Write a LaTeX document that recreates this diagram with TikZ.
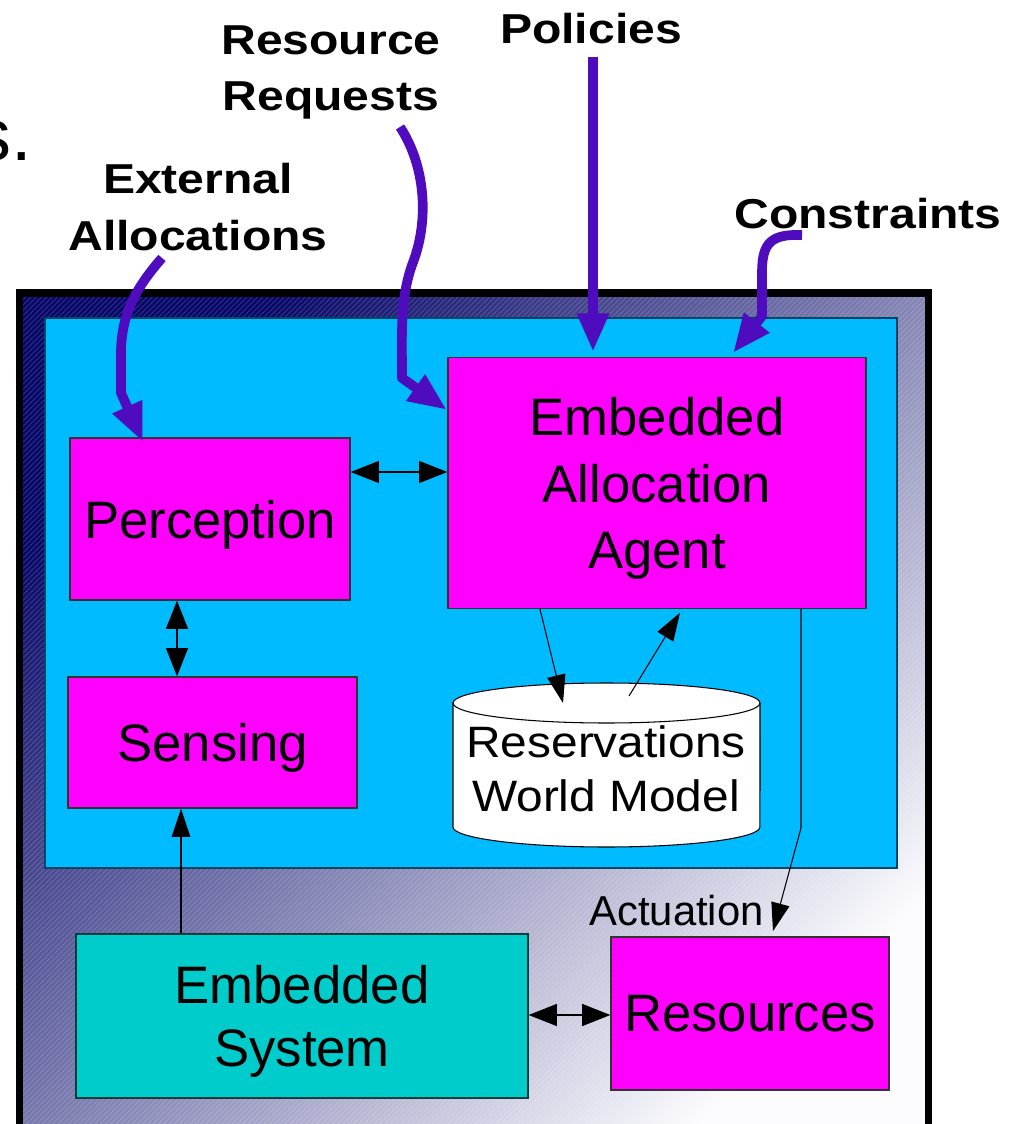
\documentclass[tikz,border=0pt]{standalone}
\usepackage{fontspec}
\setmainfont{Liberation Sans}
\newfontfamily\lblfont[FakeStretch=1.15]{Liberation Sans}
\newfontfamily\resfont[FakeStretch=1.09]{Liberation Sans}
\usetikzlibrary{arrows.meta,patterns}
\definecolor{cyanp}{RGB}{0,187,255}
\definecolor{magb}{RGB}{255,0,255}
\definecolor{tealb}{RGB}{0,204,204}
\definecolor{purp}{RGB}{78,12,190}
\definecolor{navyd}{RGB}{8,8,105}
\definecolor{lightd}{RGB}{252,252,254}
\definecolor{paneledge}{RGB}{0,70,100}
\begin{document}
\begin{tikzpicture}[x=0.02cm,y=-0.02cm,
  box/.style={draw=black!80, line width=0.8pt, fill=magb, inner sep=0pt, text depth=0pt, align=center,
    font=\fontsize{30pt}{38pt}\selectfont},
  lbl/.style={font=\lblfont\bfseries\fontsize{23.8pt}{32.3pt}\selectfont, align=center, inner sep=0pt, anchor=north},
  arr/.style={-{Triangle[length=16pt,width=10.5pt]}, line width=0.6pt},
  darr/.style={{Triangle[length=16pt,width=12.5pt]}-{Triangle[length=16pt,width=12.5pt]}, line width=0.6pt},
  parr/.style={draw=purp, line width=5.5pt, line join=round, -{Triangle[length=22pt,width=17pt]}}
]
\useasboundingbox (0,0) rectangle (1020,1124);
% outer frame
\shade[top color=navyd, bottom color=lightd, shading angle=45] (19.5,293) rectangle (928.5,1160);
\fill[pattern=north east lines, pattern color=white, opacity=0.18] (19.5,293) rectangle (928.5,1160);
\draw[line width=4pt] (19.5,1160) -- (19.5,293) -- (928.5,293) -- (928.5,1160);
% partial title text
\node[font=\fontsize{42pt}{42pt}\selectfont, anchor=base east, inner sep=0pt] (stxt) at (32,161) {s.};
% panel
\node[draw=paneledge, line width=0.8pt, fill=cyanp, minimum width=17.04cm, minimum height=11cm, inner sep=0pt] (panel) at (471,593) {};
% boxes
\node[box, minimum width=5.6cm, minimum height=3.24cm] (perc) at (210,519) {Perception};
\node[box, minimum width=5.78cm, minimum height=2.62cm] (sens) at (212.5,742.5) {Sensing};
\node[box, minimum width=8.36cm, minimum height=5.02cm] (eaa) at (657,483) {Embedded\\Allocation\\Agent};
\node[box, fill=tealb, draw=black!70!tealb, minimum width=9.04cm, minimum height=3.28cm, font=\fontsize{30pt}{36.3pt}\selectfont] (esys) at (302,1016) {Embedded\\System};
\node[box, minimum width=5.56cm, minimum height=3.06cm] (res) at (750,1013.5) {Resources};
% cylinder
\filldraw[fill=white, draw=black, line width=0.6pt] (453,703) -- (453,827) arc[start angle=180, end angle=360, x radius=3.07cm, y radius=0.4cm] -- (760,703) arc[start angle=0, end angle=180, x radius=3.07cm, y radius=0.4cm] -- cycle;
\draw[line width=0.6pt] (453,703) arc[start angle=180, end angle=360, x radius=3.07cm, y radius=0.4cm];
\node[font=\resfont\fontsize{25pt}{31.2pt}\selectfont, align=center, inner sep=0pt, text depth=0pt] (cyl) at (606,768.5) {Reservations\\World Model};
% actuation label
\node[font=\fontsize{23.8pt}{28pt}\selectfont, inner sep=0pt, text depth=0pt] (act) at (676.5,910.5) {Actuation};
% labels
\node[lbl] (lres) at (331,25) {Resource\\Requests};
\node[lbl] (lpol) at (591,13) {Policies};
\node[lbl] (lext) at (198,163) {External\\Allocations};
\node[lbl] (lcon) at (868,198) {Constraints};
% coordinates
\coordinate (y472) at (0,472);
\coordinate (y1015) at (0,1015);
\coordinate (x177) at (177,0);
\coordinate (x181) at (181,0);
\coordinate (x540) at (540,0);
\coordinate (cylIn) at (563,703);
\coordinate (cylOut) at (629,696);
\coordinate (x680) at (680,0);
\coordinate (actM) at (801,828);
\coordinate (actT) at (773,931);
% black connectors
\draw[darr] (perc.east |- y472) -- (eaa.west |- y472);
\draw[darr] (perc.south -| x177) -- (sens.north -| x177);
\draw[arr] (esys.north -| x181) -- (sens.south -| x181);
\draw[arr] (eaa.south -| x540) -- (cylIn);
\draw[arr] (cylOut) -- ([yshift=-2pt]eaa.south -| x680);
\draw[arr] (eaa.south -| actM) -- (actM) -- (actT);
\draw[darr] (esys.east |- y1015) -- (res.west |- y1015);
% purple input arrows
\coordinate (extS) at (162,258);
\coordinate (extT) at (143,442);
\coordinate (rrS) at (400,127);
\coordinate (rrT) at (447,410);
\coordinate (polS) at (593,57);
\coordinate (polT) at (593,352);
\coordinate (conS) at (802,235);
\coordinate (conT) at (733,353);
\draw[parr] (extS) .. controls (132,292) and (122,318) .. (121,350) -- (121,393) -- (extT);
\draw[parr] (rrS) .. controls (425,165) and (430,220) .. (412,265) .. controls (400,300) and (402,330) .. (402,378) -- (rrT);
\draw[parr] (polS) -- (polT);
\draw[parr] (conS) .. controls (772,234) and (762,242) .. (762,272) -- (762,316) -- (conT);
\end{tikzpicture}
\end{document}
